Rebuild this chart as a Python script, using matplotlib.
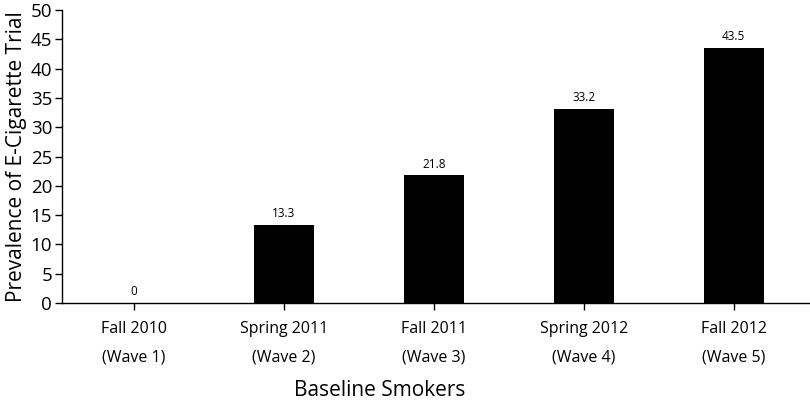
import matplotlib
matplotlib.use("Agg")
import matplotlib.pyplot as plt

categories = ["Fall 2010\n(Wave 1)", "Spring 2011\n(Wave 2)", "Fall 2011\n(Wave 3)",
              "Spring 2012\n(Wave 4)", "Fall 2012\n(Wave 5)"]
values = [0, 13.3, 21.8, 33.2, 43.5]
value_labels = ["0", "13.3", "21.8", "33.2", "43.5"]
yticks = [0, 5, 10, 15, 20, 25, 30, 35, 40, 45, 50]

plt.rcParams['font.family'] = ['Open Sans', 'DejaVu Sans']

fig = plt.figure(figsize=(8.1, 4.03), dpi=100)
ax = fig.add_axes([0.0765, 0.248, 0.922, 0.727])
x = list(range(len(categories)))
bars = ax.bar(x, values, width=0.4, color="black")
for xi, v, lab in zip(x, values, value_labels):
    ax.text(xi, v + 0.8, lab, ha="center", va="bottom", fontsize=8.5)

ax.set_xlim(-0.48, 4.5)
ax.set_ylim(0, 50)
ax.set_yticks(yticks)
ax.set_xticks(x)
ax.set_xticklabels(categories, fontsize=11.5, linespacing=2.05)
ax.tick_params(axis="y", labelsize=13.5, direction="out", length=5, width=1, pad=2)
ax.tick_params(axis="x", direction="out", length=5, width=1, pad=8)
for s in ["top", "right"]:
    ax.spines[s].set_visible(False)
ax.spines["left"].set_linewidth(1)
ax.spines["bottom"].set_linewidth(1)
ax.set_ylabel("Prevalence of E-Cigarette Trial", fontsize=15)
ax.yaxis.set_label_coords(-0.047, 0.5)
ax.set_xlabel("Baseline Smokers", fontsize=15)
ax.xaxis.set_label_coords(0.425, -0.262)

fig.savefig("out.png", dpi=100)
